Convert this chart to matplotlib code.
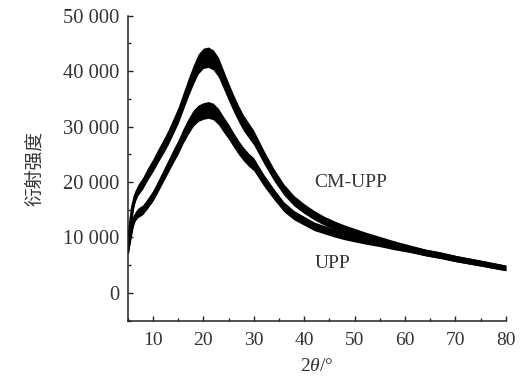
import numpy as np
import matplotlib.pyplot as plt
from matplotlib.ticker import MultipleLocator, FuncFormatter

# 2theta positions (deg) and intensities
two_theta = [5, 5.5, 6, 6.5, 7, 8, 9, 10, 11, 12, 13, 14, 15, 16, 17, 18, 19,
             20, 21, 22, 23, 24, 25, 26, 27, 28, 29, 30, 32, 34, 36, 38, 40,
             42, 44, 46, 48, 50, 52, 55, 58, 61, 64, 67, 70, 73, 76, 80]

cm_upp = [7500, 12000, 15500, 17400, 18500, 19800, 21500, 23000, 24700, 26300,
          28000, 30000, 32000, 34500, 37000, 39300, 41300, 42300, 42500, 42000,
          40700, 38500, 36300, 34200, 32300, 30600, 29300, 28000, 24500, 21300,
          18600, 16600, 15200, 14000, 13000, 12200, 11500, 10900, 10300, 9500,
          8700, 8000, 7300, 6800, 6200, 5700, 5200, 4500]

upp = [7500, 10000, 12500, 13800, 14400, 15000, 16200, 17500, 19200, 21000,
       22800, 24600, 26300, 28300, 30000, 31500, 32400, 32800, 33000, 32700,
       31800, 30400, 29100, 27600, 26200, 25000, 24000, 23200, 20300, 17800,
       15500, 14000, 13000, 12000, 11400, 10800, 10300, 9900, 9500, 9000,
       8400, 7900, 7300, 6800, 6200, 5700, 5200, 4500]

series = [("CM-UPP", cm_upp), ("UPP", upp)]

# spread of the noisy band, as a share of the intensity
NOISE_FRAC = 0.035
NOISE_BASE = 350

plt.rcParams['font.family'] = ['Liberation Serif', 'DejaVu Serif']
plt.rcParams['mathtext.fontset'] = 'custom'
plt.rcParams['mathtext.it'] = 'Liberation Serif:italic'
plt.rcParams['mathtext.rm'] = 'Liberation Serif'
txt = '#333333'
fs = 14

fig = plt.figure(figsize=(5.21, 3.91), dpi=100)
ax = fig.add_axes([0.245, 0.180, 0.726, 0.780])

x = np.array(two_theta, dtype=float)
for name, vals in series:
    y = np.array(vals, dtype=float)
    half = NOISE_FRAC * y + NOISE_BASE
    ax.fill_between(x, y - half, y + half, color='black', lw=0)
    ax.plot(x, y, color='black', lw=2.4, solid_joinstyle='round')

ax.text(42, 19900, "CM-UPP", fontsize=fs, color=txt, va='center', ha='left')
ax.text(42, 5300, "UPP", fontsize=fs, color=txt, va='center', ha='left')

ax.set_xlim(5, 80)
ax.set_ylim(-5000, 50000)
ax.xaxis.set_major_locator(MultipleLocator(10))
ax.xaxis.set_minor_locator(MultipleLocator(5))
ax.yaxis.set_major_locator(MultipleLocator(10000))
ax.yaxis.set_minor_locator(MultipleLocator(5000))


def fmt(v, pos):
    v = int(round(v))
    if v == 0:
        return "0"
    return f"{v // 1000} {v % 1000:03d}"


ax.yaxis.set_major_formatter(FuncFormatter(fmt))
ax.set_xticks([10, 20, 30, 40, 50, 60, 70, 80])

for s in ['top', 'right']:
    ax.spines[s].set_visible(False)
for s in ['left', 'bottom']:
    ax.spines[s].set_linewidth(1.1)
    ax.spines[s].set_color('#222222')

ax.tick_params(which='major', direction='in', length=3.5, width=1.0,
               labelsize=fs, labelcolor=txt, color='#222222')
ax.tick_params(which='minor', direction='in', length=2, width=1.0, color='#222222')
ax.tick_params(axis='y', pad=6, labelsize=14.8)
ax.tick_params(axis='x', pad=8)

ax.set_xlabel(r"2$\mathit{\theta}$/°", fontsize=fs, color=txt, labelpad=7)
ax.set_ylabel("衍射强度", fontsize=13.5, color=txt, labelpad=13,
              family=['Noto Sans CJK SC', 'DejaVu Sans'])

fig.savefig("out.png", dpi=100)
